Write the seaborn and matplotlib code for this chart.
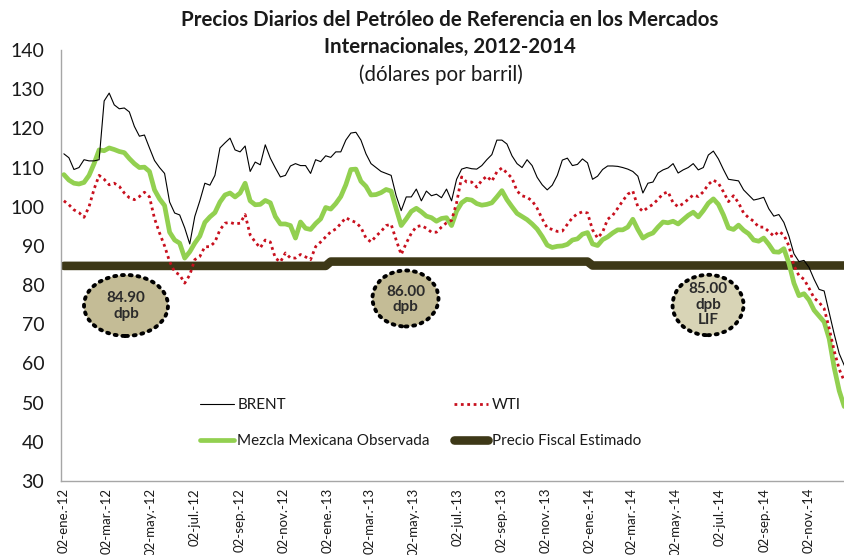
import numpy as np
import pandas as pd
import matplotlib
matplotlib.use("Agg")
import matplotlib.pyplot as plt
from matplotlib.patches import Ellipse
import seaborn as sns

# ---------------- data (weekly readings, USD per barrel) ----------------
start_date = "2012-01-02"

brent = [113.5, 112.5, 109.5, 110.0, 112.0, 111.7, 111.7, 112.0, 127.0, 129.0,
         126.0, 125.0, 125.2, 124.2, 120.5, 118.0, 118.3, 115.0, 111.8, 110.0,
         108.5, 101.2, 98.4, 97.9, 94.6, 90.5, 97.5, 101.5, 106.0, 105.5,
         108.0, 115.0, 116.3, 117.5, 114.5, 114.0, 115.5, 109.0, 111.4, 110.7,
         115.8, 112.4, 109.9, 107.6, 108.0, 110.4, 111.0, 110.5, 110.5, 108.5,
         112.0, 111.5, 113.0, 112.6, 114.0, 114.0, 117.0, 118.8, 119.0, 117.0,
         113.5, 111.0, 110.0, 109.0, 108.5, 108.0, 102.8, 99.0, 102.5, 102.5,
         104.5, 101.5, 104.0, 102.8, 103.2, 102.3, 104.5, 101.5, 107.0, 109.6,
         110.0, 109.7, 109.6, 110.5, 112.0, 113.3, 117.0, 117.0, 116.0, 113.0,
         111.0, 110.0, 112.0, 110.5, 107.5, 105.6, 104.3, 105.5, 108.0, 111.9,
         112.4, 110.5, 110.8, 112.2, 111.2, 107.0, 107.8, 109.5, 110.4, 110.4,
         110.3, 110.0, 109.6, 109.0, 107.8, 103.5, 106.0, 106.3, 108.6, 109.4,
         109.9, 111.0, 108.6, 109.4, 110.0, 111.0, 109.4, 110.0, 113.2, 114.2,
         112.2, 109.5, 107.0, 106.8, 106.6, 104.3, 103.0, 101.7, 102.0, 102.4,
         99.5, 97.6, 98.0, 96.0, 92.5, 88.0, 86.0, 86.3, 84.5, 81.5,
         78.9, 78.5, 73.0, 67.5, 62.5, 59.5]

wti = [101.5, 100.5, 99.2, 98.5, 97.3, 100.0, 104.5, 108.0, 107.0, 105.6,
       106.0, 105.2, 103.5, 102.3, 101.8, 102.6, 103.7, 102.5, 97.0, 93.3,
       90.0, 86.0, 83.4, 82.6, 80.5, 82.6, 86.5, 87.3, 89.8, 89.8,
       91.0, 94.1, 95.8, 96.0, 95.6, 95.8, 98.0, 92.8, 91.0, 89.5,
       91.5, 91.0, 86.9, 85.9, 88.2, 86.9, 86.9, 87.8, 87.2, 86.5,
       89.8, 91.0, 92.3, 93.6, 94.3, 95.7, 97.2, 96.5, 96.0, 94.7,
       92.0, 91.0, 92.5, 93.7, 95.2, 95.5, 91.5, 87.8, 90.7, 93.2,
       94.9, 95.2, 94.5, 93.5, 93.5, 94.8, 95.9, 96.5, 101.0, 107.6,
       106.3, 106.3, 105.0, 106.7, 107.8, 106.5, 108.9, 109.9, 108.6, 107.3,
       104.0, 102.8, 102.4, 101.5, 99.6, 96.9, 94.6, 94.2, 93.7, 93.8,
       95.5, 97.2, 98.2, 98.7, 98.4, 94.1, 92.0, 93.5, 96.8, 97.8,
       99.6, 101.5, 103.2, 104.0, 100.0, 98.8, 99.8, 100.6, 101.9, 103.3,
       103.8, 101.0, 100.0, 100.8, 101.9, 103.0, 102.6, 103.8, 105.7, 106.8,
       106.0, 103.8, 101.3, 102.8, 101.0, 98.4, 97.2, 96.3, 94.8, 94.8,
       93.7, 92.5, 93.7, 92.8, 90.0, 85.0, 82.4, 81.5, 79.2, 76.7,
       75.6, 74.0, 69.0, 63.2, 58.5, 55.5]

mezcla = [108.2, 106.8, 106.0, 105.8, 106.2, 108.0, 111.0, 114.5, 114.3, 115.0,
          114.6, 114.1, 113.8, 112.3, 111.0, 110.0, 110.1, 109.0, 104.3, 102.0,
          100.3, 93.5, 91.5, 90.7, 86.9, 88.5, 90.7, 92.5, 96.0, 97.4,
          98.5, 101.2, 103.0, 103.5, 102.5, 103.5, 106.0, 101.5, 100.5, 100.6,
          101.6, 101.0, 97.5, 95.6, 95.6, 95.2, 92.0, 96.1, 94.5, 94.2,
          95.7, 96.9, 99.8, 99.4, 100.8, 102.6, 105.6, 109.5, 109.6, 106.5,
          105.2, 103.0, 103.1, 103.6, 104.4, 104.0, 99.5, 95.2, 96.9, 98.8,
          99.6, 98.7, 97.6, 97.2, 96.3, 97.0, 97.2, 95.2, 98.9, 101.0,
          101.9, 101.7, 100.8, 100.4, 100.6, 101.0, 102.5, 104.1, 101.8, 100.0,
          98.3, 97.5, 96.7, 95.6, 94.3, 92.4, 90.2, 89.6, 89.9, 90.0,
          90.4, 91.5, 91.8, 93.0, 93.4, 90.5, 90.1, 91.6, 92.3, 93.3,
          94.1, 94.1, 94.8, 96.8, 94.2, 92.0, 92.8, 93.3, 94.8, 96.1,
          95.9, 96.3, 95.6, 96.7, 97.8, 98.6, 97.4, 99.0, 100.9, 102.0,
          100.6, 97.9, 94.6, 94.2, 95.3, 94.0, 93.1, 91.5, 91.2, 92.0,
          90.4, 88.5, 88.4, 89.3, 85.6, 80.5, 77.3, 77.8, 76.2, 73.6,
          72.1, 70.6, 66.3, 58.9, 53.0, 49.0]

fiscal_years = [2012, 2013, 2014]
fiscal_prices = [84.90, 86.00, 85.00]
fiscal_notes = ["84.90\ndpb", "86.00\ndpb", "85.00\ndpb\nLIF"]

tick_dates = ["2012-01-02", "2012-03-02", "2012-05-02", "2012-07-02", "2012-09-02",
              "2012-11-02", "2013-01-02", "2013-03-02", "2013-05-02", "2013-07-02",
              "2013-09-02", "2013-11-02", "2014-01-02", "2014-03-02", "2014-05-02",
              "2014-07-02", "2014-09-02", "2014-11-02"]
tick_labels = ["02-ene.-12", "02-mar.-12", "02-may.-12", "02-jul.-12", "02-sep.-12",
               "02-nov.-12", "02-ene.-13", "02-mar.-13", "02-may.-13", "02-jul.-13",
               "02-sep.-13", "02-nov.-13", "02-ene.-14", "02-mar.-14", "02-may.-14",
               "02-jul.-14", "02-sep.-14", "02-nov.-14"]

series_names = ["BRENT", "WTI", "Mezcla Mexicana Observada", "Precio Fiscal Estimado"]

# ---------------- build frame ----------------
dates = pd.date_range(start_date, periods=len(brent), freq="7D")
fiscal = [fiscal_prices[fiscal_years.index(d.year)] for d in dates]
df = pd.DataFrame({"fecha": dates, "brent": brent, "wti": wti,
                   "mezcla": mezcla, "fiscal": fiscal})

# ---------------- style ----------------
sns.set_style("white")
plt.rcParams["font.family"] = ["Lato", "DejaVu Sans"]
text_color = "#1a1a1a"

fig = plt.figure(figsize=(8.45, 5.55), dpi=100)
W, H = 845, 555
ax = fig.add_axes([61 / W, 1 - 481 / H, (845 - 61) / W, (481 - 50) / H])

c_fiscal = "#3d3817"
c_green = "#92d050"
c_red = "#c8101e"

sns.lineplot(data=df, x="fecha", y="fiscal", ax=ax, color=c_fiscal, linewidth=6.2,
             solid_capstyle="round", label=series_names[3], zorder=2)
sns.lineplot(data=df, x="fecha", y="mezcla", ax=ax, color=c_green, linewidth=3.4,
             label=series_names[2], zorder=3)
sns.lineplot(data=df, x="fecha", y="wti", ax=ax, color=c_red, linewidth=2.0,
             linestyle=(0, (1, 1.3)), label=series_names[1], zorder=4)
sns.lineplot(data=df, x="fecha", y="brent", ax=ax, color="black", linewidth=0.8,
             label=series_names[0], zorder=5)

ax.set_ylim(30, 140)
ax.set_yticks(np.arange(30, 141, 10))
ax.set_xlim(pd.Timestamp("2011-12-29"), pd.Timestamp("2014-12-23"))
ax.set_xticks(pd.to_datetime(tick_dates))
ax.set_xticklabels(tick_labels, rotation=90, fontsize=9.5, color=text_color)
ax.tick_params(axis="x", length=0, pad=5)
ax.tick_params(axis="y", length=0, pad=12, labelsize=14, labelcolor=text_color)
ax.set_xlabel("")
ax.set_ylabel("")
for s in ["top", "right"]:
    ax.spines[s].set_visible(False)
for s in ["left", "bottom"]:
    ax.spines[s].set_color("#a6a6a6")
    ax.spines[s].set_linewidth(1.0)

# ---------------- legend ----------------
handles, labels = ax.get_legend_handles_labels()
hmap = dict(zip(labels, handles))
order = [series_names[0], series_names[2], series_names[1], series_names[3]]
leg = ax.legend([hmap[k] for k in order], order, ncol=2, frameon=False,
                loc="upper left", bbox_to_anchor=(200 / W, 1 - 398 / H),
                bbox_transform=fig.transFigure, fontsize=11, handlelength=2.2,
                handletextpad=0.25, columnspacing=1.6, labelspacing=1.45,
                borderpad=0, borderaxespad=0)
for t in leg.get_texts():
    t.set_color(text_color)

# ---------------- fiscal price notes ----------------
ell_specs = [  # (cx, cy, w, h, face, text_y) in axes fractions
    (0.0829, 0.4072, 0.1071, 0.1415, "#c4bc96", 0.406),
    (0.4394, 0.4235, 0.0842, 0.1300, "#c4bc96", 0.4211),
    (0.8253, 0.4084, 0.0905, 0.1400, "#d8d4b6", 0.4095),
]
for (cx, cy, w, h, fc, ty), note in zip(ell_specs, fiscal_notes):
    e = Ellipse((cx, cy), w, h, transform=ax.transAxes, facecolor=fc,
                edgecolor="black", linewidth=2.8, linestyle=(0, (0.5, 1.5)),
                capstyle="round", zorder=6)
    ax.add_patch(e)
    ax.text(cx, ty, note, transform=ax.transAxes, ha="center", va="center",
            fontsize=11, fontweight="bold", color="#2b2b2b", linespacing=1.12,
            zorder=7)

# ---------------- title ----------------
fig.text(450 / W, 1 - 20 / H, "Precios Diarios del Petróleo de Referencia en los Mercados",
         ha="center", va="center", fontsize=14.8, fontweight="bold", color=text_color)
fig.text(450 / W, 1 - 47 / H, "Internacionales, 2012-2014",
         ha="center", va="center", fontsize=14.8, fontweight="bold", color=text_color)
fig.text(441 / W, 1 - 75 / H, "(dólares por barril)",
         ha="center", va="center", fontsize=14.8, color=text_color)

fig.savefig("out.png", dpi=100)
